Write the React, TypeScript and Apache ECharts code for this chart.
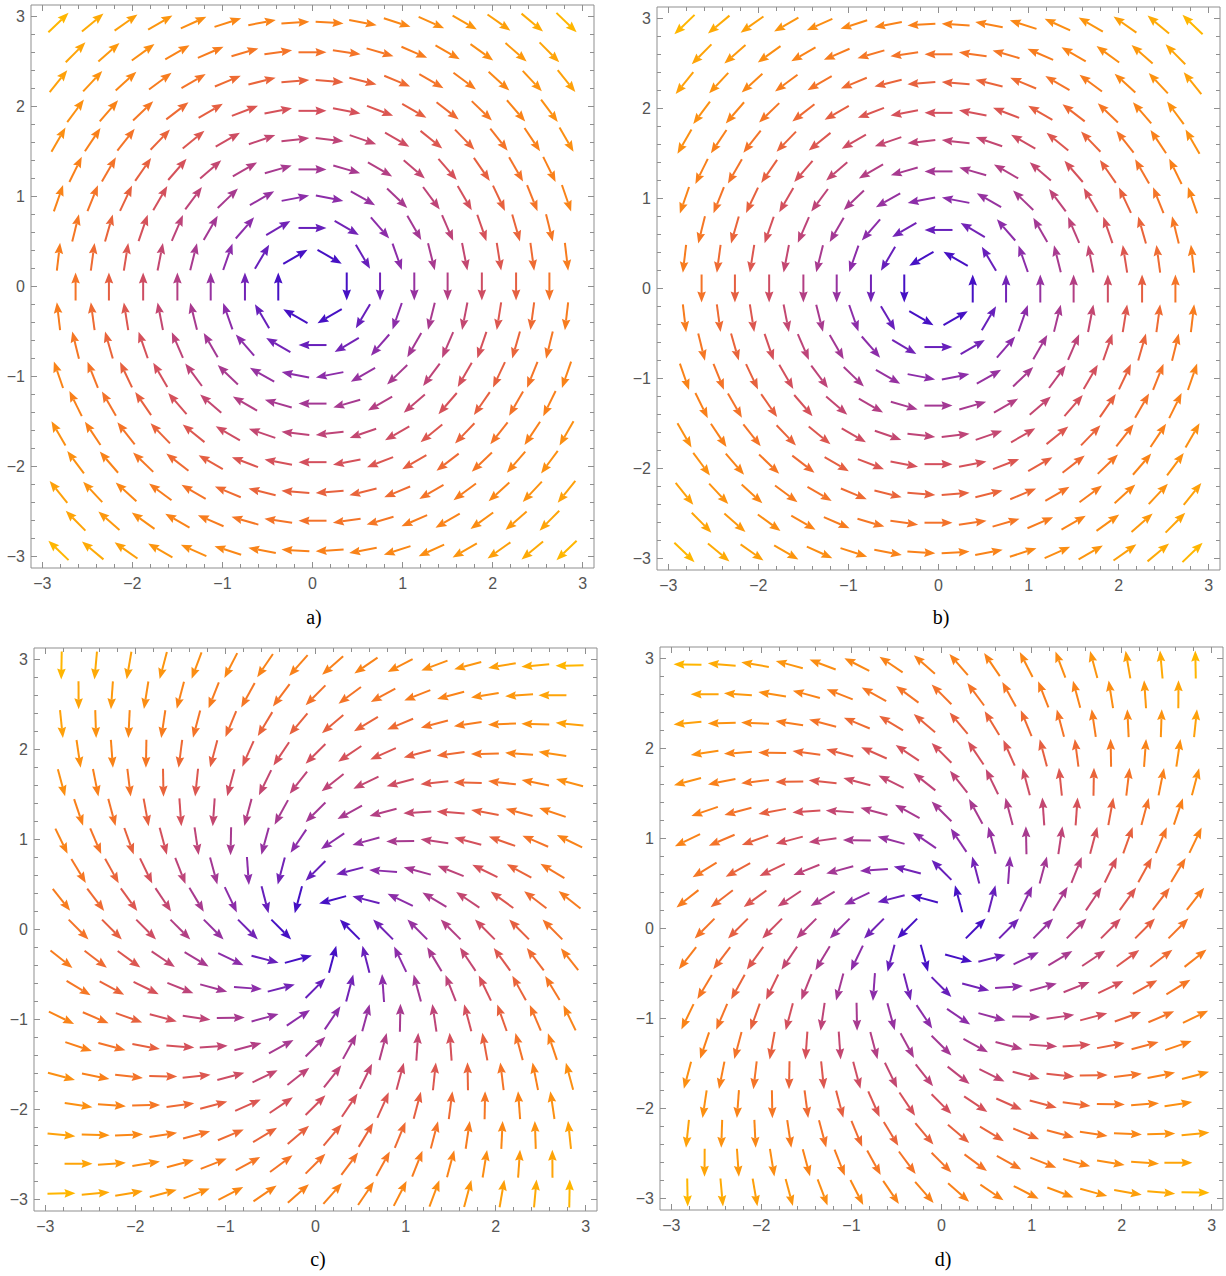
import React, { useEffect, useRef } from 'react';
import * as echarts from 'echarts';

// hexagonal sample grid (row centres, top to bottom)
const rowY = [2.93, 2.6, 2.28, 1.95, 1.63, 1.3, 0.98, 0.65, 0.33, 0, -0.33, -0.65, -0.98, -1.3, -1.63, -1.95, -2.28, -2.6, -2.93];
// rows alternate: full rows (16 points) and half-shifted rows (15 points)
const xFullRow = [-2.82, -2.44, -2.07, -1.69, -1.32, -0.94, -0.56, -0.19, 0.19, 0.56, 0.94, 1.32, 1.69, 2.07, 2.44, 2.82];
const xHalfRow = [-2.63, -2.26, -1.88, -1.5, -1.13, -0.75, -0.38, 0, 0.38, 0.75, 1.13, 1.5, 1.88, 2.26, 2.63];

// vector field of each panel: [vx coefficients of (x, y)], [vy coefficients of (x, y)]
const fieldA = [[0, 1], [-1, 0]];
const fieldB = [[0, -1], [1, 0]];
const fieldC = [[-1, -1], [1, -1]];
const fieldD = [[1, -1], [1, 1]];
const panelFields = [fieldA, fieldB, fieldC, fieldD];
const panelNames = ['a)', 'b)', 'c)', 'd)'];

const majorTicks = [-3, -2, -1, 0, 1, 2, 3];
const minorTicks = [-2.8, -2.6, -2.4, -2.2, -1.8, -1.6, -1.4, -1.2, -0.8, -0.6, -0.4, -0.2, 0.2, 0.4, 0.6, 0.8, 1.2, 1.4, 1.6, 1.8, 2.2, 2.4, 2.6, 2.8];

// magnitude colour ramp (low -> high)
const rampStops: [number, string][] = [
  [0, '#4611c4'],
  [0.08, '#6a20ba'],
  [0.16, '#8a2cab'],
  [0.25, '#a33894'],
  [0.34, '#bd4479'],
  [0.43, '#d4505c'],
  [0.515, '#e6603f'],
  [0.6, '#f3722a'],
  [0.69, '#f9801a'],
  [0.8, '#fc9210'],
  [0.9, '#fea408'],
  [1, '#ffb600'],
];

const AX_MIN = -3.125;
const AX_MAX = 3.125;
const PANEL = 563;
const panelBoxes = [
  { left: 31, top: 5 },
  { left: 657, top: 7 },
  { left: 34, top: 648 },
  { left: 660, top: 647 },
];
const labelPos = [
  [314, 617],
  [941, 617],
  [318, 1259],
  [943, 1259],
];

const FRAME = '#8f8f8f';
const LABEL = '#555555';
const ARROW_LEN = 28;
const HEAD_LEN = 11;
const HEAD_HW = 4.3;

function hexToRgb(h: string) {
  const n = parseInt(h.slice(1), 16);
  return [(n >> 16) & 255, (n >> 8) & 255, n & 255];
}

function colorAt(t: number) {
  const tt = Math.max(0, Math.min(1, t));
  for (let i = 1; i < rampStops.length; i++) {
    if (tt <= rampStops[i][0]) {
      const [t0, c0] = rampStops[i - 1];
      const [t1, c1] = rampStops[i];
      const f = (tt - t0) / (t1 - t0 || 1);
      const a = hexToRgb(c0);
      const b = hexToRgb(c1);
      const r = a.map((v, k) => Math.round(v + (b[k] - v) * f));
      return `rgb(${r[0]},${r[1]},${r[2]})`;
    }
  }
  return rampStops[rampStops.length - 1][1];
}

function buildPanelData(field: number[][]) {
  const pts: number[][] = [];
  rowY.forEach((y, i) => {
    const xs = i % 2 === 0 ? xFullRow : xHalfRow;
    xs.forEach((x) => {
      const vx = field[0][0] * x + field[0][1] * y;
      const vy = field[1][0] * x + field[1][1] * y;
      const m = Math.hypot(vx, vy);
      if (m > 1e-9) pts.push([x, y, vx, vy, m]);
    });
  });
  let lo = Infinity;
  let hi = -Infinity;
  pts.forEach((p) => {
    lo = Math.min(lo, p[4]);
    hi = Math.max(hi, p[4]);
  });
  return pts.map((p) => [p[0], p[1], p[2], p[3], (p[4] - lo) / (hi - lo)]);
}

const renderArrow = (params: any, api: any) => {
  const x = api.value(0);
  const y = api.value(1);
  const vx = api.value(2);
  const vy = api.value(3);
  const t = api.value(4);
  const c = api.coord([x, y]);
  const m = Math.hypot(vx, vy);
  const dx = vx / m;
  const dy = -vy / m;
  const half = ARROW_LEN / 2;
  const tip = [c[0] + dx * half, c[1] + dy * half];
  const tail = [c[0] - dx * half, c[1] - dy * half];
  const base = [tip[0] - dx * HEAD_LEN, tip[1] - dy * HEAD_LEN];
  const notch = [base[0] + dx * 1.5, base[1] + dy * 1.5];
  const nx = -dy;
  const ny = dx;
  const color = colorAt(t);
  return {
    type: 'group',
    children: [
      {
        type: 'line',
        shape: { x1: tail[0], y1: tail[1], x2: notch[0], y2: notch[1] },
        style: { stroke: color, lineWidth: 2, lineCap: 'butt' },
      },
      {
        type: 'polygon',
        shape: {
          points: [
            tip,
            [base[0] + nx * HEAD_HW, base[1] + ny * HEAD_HW],
            notch,
            [base[0] - nx * HEAD_HW, base[1] - ny * HEAD_HW],
          ],
        },
        style: { fill: color },
      },
    ],
  };
};

const fmt = (v: number) => (v < 0 ? '\u2212' + Math.abs(v) : String(v));

function makeAxis(kind: 'x' | 'y', gridIndex: number, position: string, major: boolean, labels: boolean) {
  return {
    gridIndex,
    type: 'value',
    min: AX_MIN,
    max: AX_MAX,
    position,
    axisLine: { show: false, onZero: false },
    splitLine: { show: false },
    axisTick: {
      show: true,
      inside: true,
      length: major ? 6 : 4,
      customValues: major ? majorTicks : minorTicks,
      lineStyle: { color: FRAME, width: 1 },
    },
    axisLabel: labels
      ? {
          show: true,
          customValues: majorTicks,
          margin: kind === 'x' ? 7 : 6,
          color: LABEL,
          fontSize: 16,
          fontFamily: 'Liberation Sans, Arial, sans-serif',
          formatter: fmt,
        }
      : { show: false },
  };
}

export default function App() {
  const ref = useRef<HTMLDivElement>(null);
  useEffect(() => {
    if (!ref.current) return;
    const chart = echarts.init(ref.current, null, { renderer: 'svg' });
    const grids: any[] = [];
    const xAxes: any[] = [];
    const yAxes: any[] = [];
    const series: any[] = [];
    const graphics: any[] = [];
    panelFields.forEach((field, i) => {
      const box = panelBoxes[i];
      grids.push({
        left: box.left,
        top: box.top,
        width: PANEL,
        height: PANEL,
        show: true,
        borderColor: FRAME,
        borderWidth: 1,
        backgroundColor: 'transparent',
        containLabel: false,
        outerBoundsMode: 'none',
      });
      xAxes.push(makeAxis('x', i, 'bottom', true, true));
      xAxes.push(makeAxis('x', i, 'bottom', false, false));
      xAxes.push(makeAxis('x', i, 'top', true, false));
      xAxes.push(makeAxis('x', i, 'top', false, false));
      yAxes.push(makeAxis('y', i, 'left', true, true));
      yAxes.push(makeAxis('y', i, 'left', false, false));
      yAxes.push(makeAxis('y', i, 'right', true, false));
      yAxes.push(makeAxis('y', i, 'right', false, false));
      series.push({
        type: 'custom',
        xAxisIndex: i * 4,
        yAxisIndex: i * 4,
        data: buildPanelData(field),
        encode: { x: 0, y: 1 },
        renderItem: renderArrow,
        silent: true,
        clip: false,
      });
      graphics.push({
        type: 'text',
        x: labelPos[i][0],
        y: labelPos[i][1],
        style: {
          text: panelNames[i],
          fill: '#000',
          font: '20px "Liberation Serif", "Times New Roman", serif',
          textAlign: 'center',
          textVerticalAlign: 'middle',
        },
      });
    });
    chart.setOption({
      animation: false,
      backgroundColor: '#ffffff',
      grid: grids,
      xAxis: xAxes,
      yAxis: yAxes,
      series,
      graphic: graphics,
    });
    return () => chart.dispose();
  }, []);
  return (
    <div
      ref={ref}
      style={{ position: 'absolute', left: 0, top: 0, width: 1226, height: 1276 }}
    />
  );
}
